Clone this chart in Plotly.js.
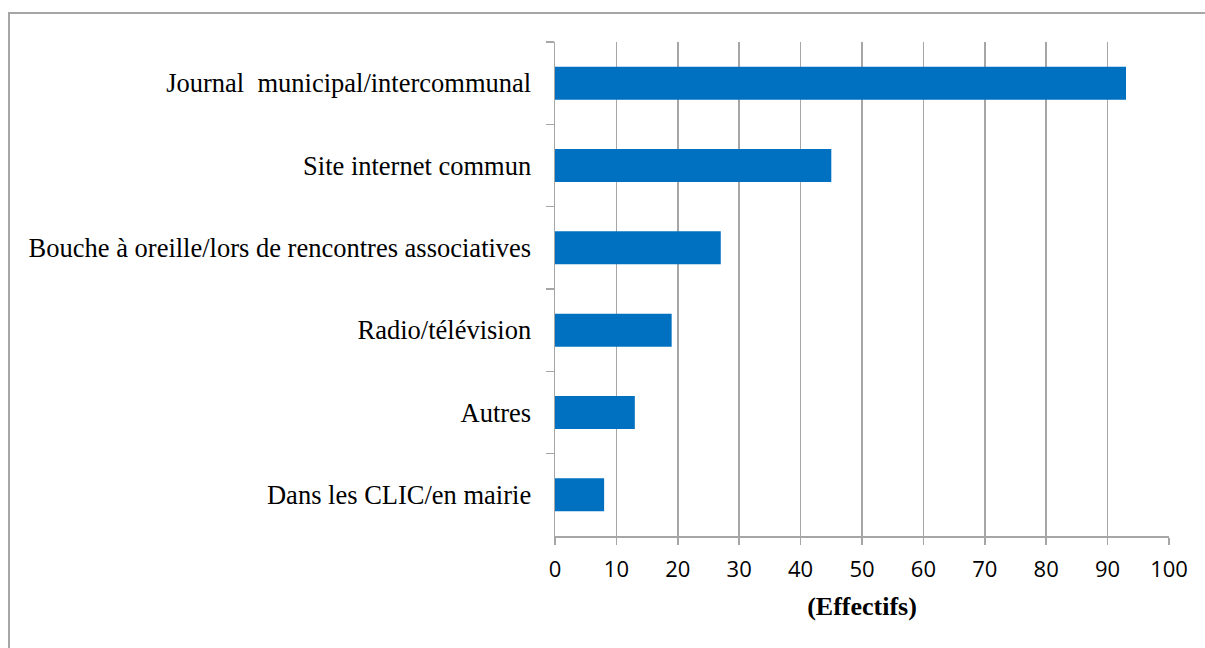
<!DOCTYPE html>
<html>
<head>
<meta charset="utf-8">
<script src="https://cdn.plot.ly/plotly-3.0.1.min.js"></script>
<style>
  html, body { margin: 0; padding: 0; background: #ffffff; }
  #wrap { position: relative; width: 1205px; height: 648px; overflow: hidden; }
  #frame { position: absolute; left: 8px; top: 12px; width: 1300px; height: 700px;
           border-left: 2px solid #a6a6a6; border-top: 2px solid #a6a6a6; pointer-events: none; }
  #chart { position: absolute; left: 0; top: 0; width: 1205px; height: 648px; }
</style>
</head>
<body>
<div id="wrap">
  <div id="chart"></div>
  <div id="frame"></div>
</div>
<script>
// Data (top to bottom)
const categories = [
  "Journal  municipal/intercommunal",
  "Site internet commun",
  "Bouche à oreille/lors de rencontres associatives",
  "Radio/télévision",
  "Autres",
  "Dans les CLIC/en mairie"
];
const effectifs = [93, 45, 27, 19, 13, 8];
const xTickValues = [0, 10, 20, 30, 40, 50, 60, 70, 80, 90, 100];
const xAxisTitle = "(Effectifs)";

const trace = {
  type: "bar",
  orientation: "h",
  x: effectifs,
  y: categories,
  marker: { color: "#0070C0", line: { width: 0 } },
  hoverinfo: "x+y"
};

const grey = "#a6a6a6";
const layout = {
  width: 1205,
  height: 648,
  paper_bgcolor: "rgba(0,0,0,0)",
  plot_bgcolor: "#ffffff",
  margin: { l: 555, r: 36, t: 42, b: 112 },
  bargap: 0.6,
  showlegend: false,
  xaxis: {
    range: [0, 100],
    tickvals: xTickValues,
    ticktext: xTickValues.map(String),
    showgrid: true,
    gridcolor: grey,
    gridwidth: 1.5,
    zeroline: false,
    showline: true,
    linecolor: grey,
    linewidth: 1.5,
    ticks: "outside",
    ticklen: 7,
    tickwidth: 1.5,
    tickcolor: grey,
    ticklabelstandoff: 6,
    tickfont: { family: "Open Sans, Liberation Sans, sans-serif", size: 22, color: "#000000" },
    title: { text: "<b>" + xAxisTitle + "</b>", font: { family: "Liberation Serif, Times New Roman, serif", size: 26, color: "#000000" }, standoff: 15 },
    fixedrange: true
  },
  yaxis: {
    type: "category",
    autorange: "reversed",
    showgrid: false,
    zeroline: false,
    showline: true,
    linecolor: grey,
    linewidth: 1.5,
    ticks: "outside",
    tickson: "boundaries",
    ticklen: 8,
    tickwidth: 1.5,
    tickcolor: grey,
    ticklabelstandoff: 17,
    tickfont: { family: "Liberation Serif, Times New Roman, serif", size: 26.5, color: "#000000" },
    fixedrange: true
  }
};

Plotly.newPlot("chart", [trace], layout, { displayModeBar: false, staticPlot: true });
</script>
</body>
</html>
